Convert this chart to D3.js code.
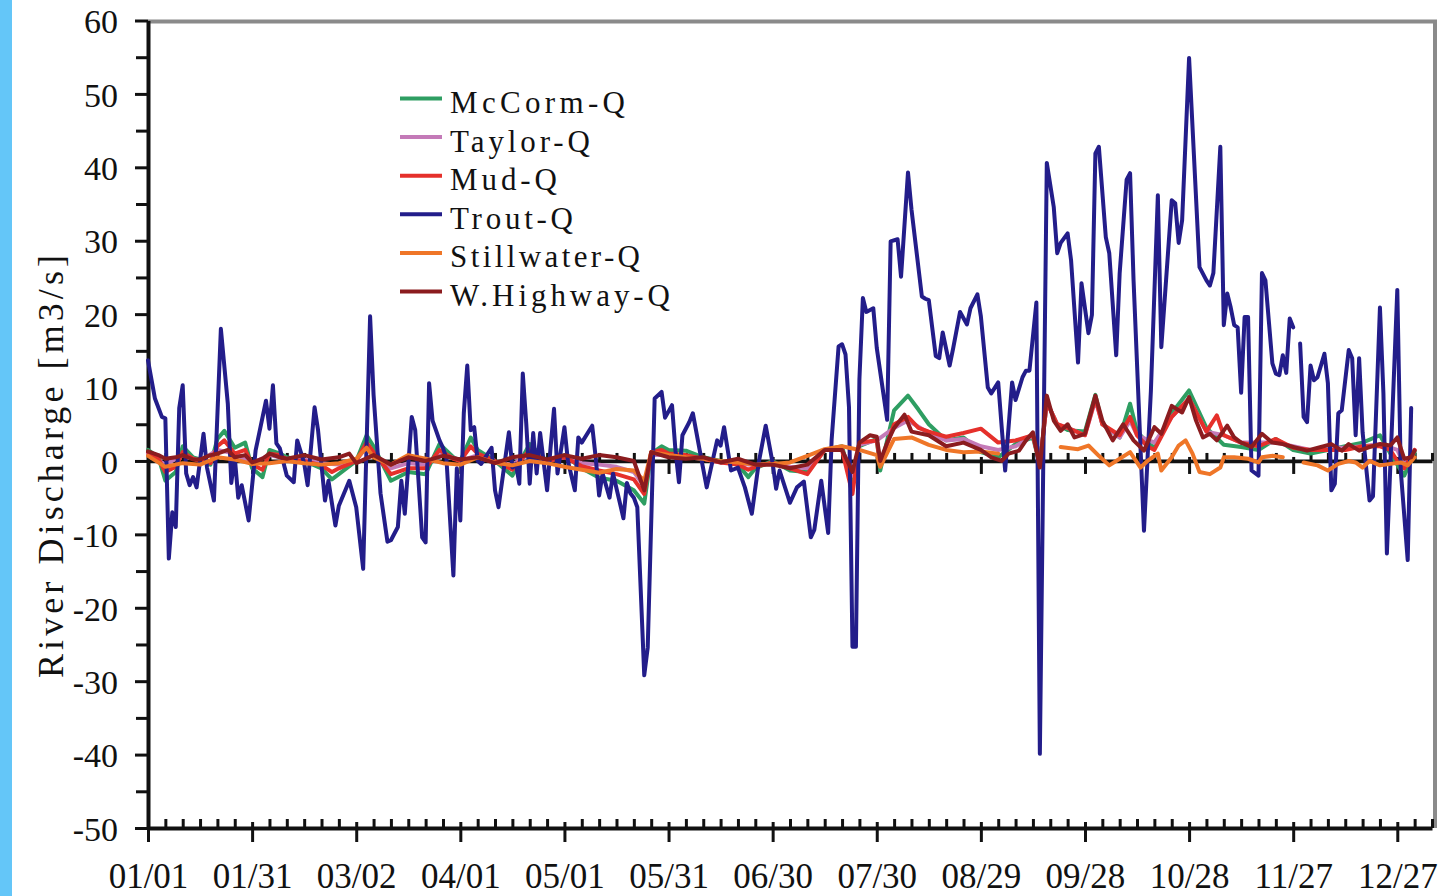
<!DOCTYPE html>
<html><head><meta charset="utf-8">
<script src="https://cdn.jsdelivr.net/npm/d3@7"></script>
<style>body{margin:0;background:#fff}svg{display:block}</style>
</head><body>
<svg id="chart" width="1447" height="896"></svg>
<script>
// ---------- data ----------
const seriesNames = ["McCorm-Q","Taylor-Q","Mud-Q","Trout-Q","Stillwater-Q","W.Highway-Q"];
const seriesColors = ["#2e9e62","#c47ab8","#e5302b","#231d8a","#ef7628","#8b1c1f"];
const xTickDays = [0,30,60,90,120,150,180,210,240,270,300,330,360];
const xTickLabels = ["01/01","01/31","03/02","04/01","05/01","05/31","06/30","07/30","08/29","09/28","10/28","11/27","12/27"];
const yTickValues = [60,50,40,30,20,10,0,-10,-20,-30,-40,-50];
const yMinorValues = [55,45,35,25,15,5,-5,-15,-25,-35,-45];

const mccormDays = [0,3,5,8,10,13,15,18,20,22,25,28,30,33,35,38,40,45,50,53,55,60,63,65,70,75,80,84,88,90,93,95,100,105,110,115,120,125,130,135,140,143,145,148,150,155,160,165,170,173,175,180,185,190,195,200,203,205,210,211,215,219,222,225,230,235,240,245,250,255,257,259,262,265,270,273,275,280,283,285,288,290,295,300,305,310,315,320,325,330,335,340,345,350,355,358,360,362,365];
const mccormQ = [1.5,0.5,-2.7,-1.5,2,0.5,0.2,-0.5,3,4.1,1.8,2.5,-1,-2.2,1.5,1,0.5,0,-1,-2.5,-1.8,0,3.5,2,-2.7,-1.5,-1.8,2.3,0.5,0,3.2,1.5,0,-2,2.3,0,0.8,-1,-2.3,-2.7,-4,-5.8,1,2,1.5,1.4,0.5,0,-0.5,-2.2,-1,0,-1.3,-1.5,1.5,2,-3.5,2,3,-1.3,6.9,8.9,7,5,2.8,3.2,1.2,0.5,2.3,3.2,-0.5,8,5,4.2,4,9,5,3.2,7.8,4,2.5,1.8,6.5,9.6,4.5,2.2,1.9,1.5,3,1.5,1,1.5,2,2.5,3.5,1,-0.5,-2,1.2];

const taylorDays = [0,5,10,15,20,25,30,35,40,45,50,55,60,63,65,70,75,80,85,90,95,100,105,110,115,120,125,130,135,140,143,145,150,155,160,165,170,175,180,185,190,195,200,203,205,210,215,219,225,230,235,240,245,250,255,257,259,262,265,270,273,275,280,283,285,290,295,300,305,310,315,320,325,330,335,340,345,350,355,360,362,365];
const taylorQ = [1,-0.5,0.8,0,1.5,1,-0.3,0.8,0.3,0.2,-0.3,-0.5,0,2,1,-1,-0.3,-0.5,1,0,0.8,-0.2,-0.5,1,0,0.5,-0.3,-0.5,-0.8,-1.5,-3.5,0.8,0.8,0.5,0.3,-0.2,-0.3,-0.6,-0.3,-0.8,-1,1.5,1.5,-2,2.2,2.8,4.5,5.5,3.8,2.8,3,2,1.5,2,3.5,-0.5,8,5,4.5,3.5,8.3,5,3.2,5.5,3.5,2.5,6,8.5,4,3.5,2.5,2.5,2.5,2,1.5,1.8,1.8,2,2.3,1.5,-0.5,1.5];

const mudDays = [0,3,5,8,10,13,15,18,20,22,25,28,30,33,35,38,40,45,50,53,55,60,63,65,70,75,80,84,88,90,93,95,100,105,110,115,120,125,130,135,140,143,145,148,150,155,160,165,170,173,175,180,185,190,195,200,203,205,210,211,215,219,222,225,230,235,240,245,250,255,257,259,262,265,270,273,275,280,283,285,288,290,295,300,305,308,310,315,320,325,330,335,340,345,350,355,358,360,362,365];
const mudQ = [1.2,0.3,-1.5,-0.8,1.2,0.3,0,-0.3,2,2.8,1,1.5,-0.5,-1.2,1,0.8,0.2,0,-0.6,-1.5,-1,0,2.5,1.2,-1.8,-1,-1,1.5,0.3,0,2,1,0,-1.2,1.5,0,0.5,-0.7,-1.3,-1.8,-2.5,-4.5,1.2,1.5,1,0.8,0.3,-0.2,-0.5,-1.2,-0.8,-0.2,-1,-1.8,1.5,1.5,-4.5,2.5,2.8,-0.5,5,6,4.5,4,3.3,3.8,4.4,2.5,2.8,3.5,-0.5,8,5,4.5,3.5,8.5,5,3.5,6,3.5,2,1.5,6,8.5,4,6.2,3.5,2.5,2,3,1.8,1.5,1.5,1.5,2,2,1.5,0,-1,1.5];

const troutDays = [0,2,4,5,6,7,8,9,10,11,12,13,14,16,17,19,21,23,24,25,26,27,29,31,34,35,36,37,38,40,42,43,45,46,48,49,51,52,54,55,58,60,62,64,65,67,69,70,72,73,74,76,77,79,80,81,82,84,85,86,88,89,90,91,92,93,94,95,96,99,100,101,104,105,106,107,108,109,110,111,112,113,115,116,117,118,120,121,123,124,125,128,129,130,131,133,134,137,138,139,140,141,143,144,146,148,149,151,152,153,154,156,157,159,161,164,165,166,168,170,172,174,176,178,180,181,182,185,187,189,191,192,194,196,197,199,200,201,202,203,204,205,206,207,209,210,213,214,216,217,219,220,223,224,225,227,228,229,231,232,234,236,237,239,240,242,243,245,246,247,249,250,252,253,254,256,257,259,261,262,263,265,266,268,269,271,272,273,274,276,277,279,280,282,283,284,287,289,291,292,295,296,297,298,300,303,305,306,307,309,310,311,312,313,314,315,316,317,318,320,321,322,324,325,326,327,328,329,330,331,332,333,334,335,336,337,339,340,341,342,343,344,346,347,348,349,350,352,353,355,356,357,360,361,363,364];
const troutQ = [13.7,8.5,6.0,5.8,-13.3,-7,-9,7.2,10.3,-1.7,-3.3,-2.2,-3.6,3.7,-0.9,-5.4,18,7.8,-3,0.5,-5,-3.3,-8.1,1.4,8.2,4.4,10.3,2.4,1.7,-2,-2.9,2.8,-0.3,-3.3,7.3,4.2,-5.4,-2.7,-8.8,-6.1,-2.7,-6.3,-14.7,19.7,9,-4.4,-11,-10.8,-9,-2.7,-7.2,6,4.2,-10.4,-11.1,10.6,5.5,2.8,1.8,0.3,-15.6,-1,-8.1,6.5,13,4.2,4.6,0,-0.4,1.8,-4,-6.3,3.9,-0.9,-0.4,-3.1,11.9,5.1,-3.1,3.8,-1.7,3.8,-4,1.8,7.1,-1.7,4.6,0,-4,3.2,2.5,4.8,0.5,-4.7,-1.7,-5,-1.7,-7.8,-3,-4.4,-5,-6.3,-29.2,-25.4,8.5,9.4,5.9,7.6,1.4,-2.9,3.5,5.3,6.5,1.4,-3.6,2.8,2.1,4.6,-1.3,-0.9,-3.6,-7.2,-0.2,4.8,-0.3,-3.8,-1.3,-5.7,-3.6,-2.8,-10.4,-9.4,-2.7,-9.8,2.9,15.6,15.9,14.5,7.3,-25.3,-25.3,11.1,22.2,20.3,20.8,15.4,5.6,29.9,30.2,25.1,39.3,34.3,22.4,22.1,21.9,14.3,14,17.5,13,15.3,20.3,18.6,20.8,22.7,19.7,10,9.2,10.7,4.6,-1.3,10.7,8.3,11.4,12.3,12.3,21.6,-39.9,40.6,34.6,28.3,29.7,31,27.3,13.4,24.2,17.4,19.9,41.9,42.8,30.5,28.3,14.4,25.6,38.3,39.2,24.6,-9.5,9.6,36.2,15.5,35.5,35.1,29.7,32.8,54.9,26.4,24.6,23.9,25.6,42.8,18.5,22.8,20.9,18.5,18.2,9.3,19.6,19.6,-1.3,-2,25.6,24.6,13.3,11.9,11.7,14.4,12,19.4,18.2,null,16,6,5.3,13,11,11.4,14.6,10.6,-4,-3.1,6.5,6.9,15.1,14,3.5,14,3.9,-5.4,-4.8,20.9,9.2,-12.6,23.3,-1.3,-13.5,7.2];

const stillwaterDays = [0,5,10,15,20,25,30,35,40,45,50,55,60,63,65,70,75,80,85,90,95,100,105,110,115,120,125,130,135,140,143,145,150,155,160,165,170,175,180,185,190,195,200,205,210,211,215,220,225,230,235,240,245,247,263,268,271,274,277,280,283,286,288,291,292,295,297,299,301,303,306,309,310,313,317,320,321,324,327,328,333,337,340,343,346,348,350,352,355,358,361,363,365];
const stillwaterQ = [0.7,-0.8,-0.3,-0.5,0.5,0.2,-0.4,-0.3,0,-0.3,-0.5,-0.3,0.3,1.8,0.5,-0.5,0.8,0.3,-0.3,-0.5,0.5,-0.2,-0.6,0,-0.3,-0.8,-1.2,-1.6,-1.1,-1.3,-2.7,1.2,0.8,0.5,0.3,0,-0.2,-0.5,-0.4,-0.2,0.7,1.6,2,1.5,0.8,-0.8,3,3.2,2.2,1.5,1.2,1.3,1,null,1.9,1.6,2.1,0.7,-0.6,0.3,1.2,-0.9,0,1,-1.3,0.5,2.1,2.8,1,-1.5,-1.8,-0.9,0.5,0.5,0.3,-0.2,0.5,0.7,0.5,null,-0.2,-0.6,-1.3,-0.4,0,-0.2,-0.9,0,-0.6,-0.4,-0.2,-0.6,0.5];

const highwayDays = [0,3,5,8,10,13,15,18,20,23,25,28,30,33,35,38,40,45,50,55,58,60,65,70,75,80,85,90,95,100,105,110,115,120,125,130,135,140,143,145,150,155,160,165,170,175,180,185,190,195,200,203,205,208,210,211,213,215,218,220,225,230,235,240,243,246,248,251,253,255,257,259,261,263,265,267,270,273,275,278,281,284,287,290,292,295,298,300,302,304,306,308,311,313,315,318,321,324,327,330,334,338,341,344,346,349,352,355,358,360,362,364,365];
const highwayQ = [1.3,0.8,0.3,0.5,0.8,0.2,0.2,0.8,1,1.5,0.5,0.8,-0.2,0.3,1,0.5,0.3,0.8,0.2,0.5,1,-0.3,0.8,-0.5,0.5,0,0.7,0.2,0.5,-0.3,0.5,0.8,0.2,0.8,0.3,0.8,0.5,0,-4,1.2,0.5,0.3,0.5,-0.2,0.3,-0.5,-0.5,-1,-0.5,1.5,1.5,-1.5,2.5,3.5,3.3,0,2.5,4.5,6.3,4,3.5,2,2.5,1.5,0.5,0,1,1.4,2.8,3.9,-0.9,8.9,5.5,4.1,5,3.2,3.7,8.9,5.5,2.8,5,2.8,1.4,4.6,3.7,7.5,6.6,8.7,5.5,3.2,3.7,2.8,4.8,3.2,2.5,1.9,3.7,2.5,2.3,1.9,1.4,1.9,2.3,1.4,2.3,1.4,1.9,2.3,2.1,3.2,0.3,0.5,1.4];

const seriesDays = [mccormDays, taylorDays, mudDays, troutDays, stillwaterDays, highwayDays];
const seriesValues = [mccormQ, taylorQ, mudQ, troutQ, stillwaterQ, highwayQ];

// ---------- chart ----------
const svg = d3.select("#chart");
const serif = "'Liberation Serif','Times New Roman',serif";

svg.append("rect").attr("x",0).attr("y",0).attr("width",12).attr("height",896).attr("fill","#64c6f8");

const x = d3.scaleLinear().domain([0,370]).range([148,1432]);
const y = d3.scaleLinear().domain([-50,60]).range([828,20.5]);

// top / right frame
svg.append("path")
  .attr("d", `M${x(0)},${y(60)+1}H${x(370)+3}V${y(-50)}`)
  .attr("fill","none").attr("stroke","#8a8a8a").attr("stroke-width",4);

const minorDays = d3.range(5,371,5).filter(d => d % 30 !== 0);

function styleAxis(g, w){
  g.select(".domain").attr("stroke","#111").attr("stroke-width",w);
  g.selectAll(".tick line").attr("stroke","#111").attr("stroke-width",3);
}

// zero line axis
const zg = svg.append("g").attr("transform",`translate(0,${y(0)})`);
zg.call(d3.axisBottom(x).tickValues(xTickDays).tickSize(13).tickSizeOuter(0).tickFormat(""));
zg.selectAll(".tick line").attr("y1",-4);
styleAxis(zg,3.8);
const zgm = svg.append("g").attr("transform",`translate(0,${y(0)})`);
zgm.call(d3.axisTop(x).tickValues(minorDays).tickSize(8).tickSizeOuter(0).tickFormat(""));
zgm.select(".domain").remove();
styleAxis(zgm,3);

// bottom axis
const bg = svg.append("g").attr("transform",`translate(0,${y(-50)})`);
bg.call(d3.axisBottom(x).tickValues(xTickDays).tickSize(14).tickSizeOuter(0).tickFormat((d,i)=>xTickLabels[i]));
bg.selectAll(".tick line").attr("y1",-6);
bg.selectAll(".tick text").attr("y",60).attr("dy",0)
  .attr("font-family",serif).attr("font-size",35).attr("fill","#111");
styleAxis(bg,4);
const bgm = svg.append("g").attr("transform",`translate(0,${y(-50)})`);
bgm.call(d3.axisTop(x).tickValues(minorDays).tickSize(9).tickSizeOuter(0).tickFormat(""));
bgm.select(".domain").remove();
styleAxis(bgm,3);

// left axis
const lg = svg.append("g").attr("transform",`translate(${x(0)},0)`);
lg.call(d3.axisLeft(y).tickValues(yTickValues).tickSize(13).tickSizeOuter(0).tickPadding(17).tickFormat(d => String(d)));
lg.selectAll(".tick text").attr("font-family",serif).attr("font-size",34).attr("fill","#111").attr("dy","0.36em");
styleAxis(lg,4);
const lgm = svg.append("g").attr("transform",`translate(${x(0)},0)`);
lgm.call(d3.axisLeft(y).tickValues(yMinorValues).tickSize(12).tickSizeOuter(0).tickFormat(""));
lgm.select(".domain").remove();
styleAxis(lgm,3);

// y title
svg.append("text")
  .attr("transform","translate(63,466.5) rotate(-90)")
  .attr("text-anchor","middle")
  .attr("font-family",serif).attr("font-size",36).attr("fill","#111")
  .attr("textLength",423).attr("lengthAdjust","spacing")
  .text("River Discharge [m3/s]");

// series
const line = d3.line()
  .defined(d => d[1] !== null)
  .x(d => x(d[0]))
  .y(d => y(d[1]));

seriesNames.forEach((name,i) => {
  const pts = seriesDays[i].map((d,k) => [d, seriesValues[i][k]]);
  svg.append("path")
    .datum(pts)
    .attr("d", line)
    .attr("fill","none")
    .attr("stroke", seriesColors[i])
    .attr("stroke-width", 4)
    .attr("stroke-linejoin","round")
    .attr("stroke-linecap","round");
});

// legend
const legendLens = [175,140,107,123,190,220];
const lgd = svg.append("g");
seriesNames.forEach((name,i) => {
  const cy = 98.5 + i*38.6;
  lgd.append("line").attr("x1",400).attr("x2",442).attr("y1",cy).attr("y2",cy)
    .attr("stroke",seriesColors[i]).attr("stroke-width",4);
  lgd.append("text").attr("x",450).attr("y",cy+14.5)
    .attr("font-family",serif).attr("font-size",31).attr("fill","#111")
    .attr("textLength",legendLens[i]).attr("lengthAdjust","spacing")
    .text(name);
});
</script>
</body></html>
